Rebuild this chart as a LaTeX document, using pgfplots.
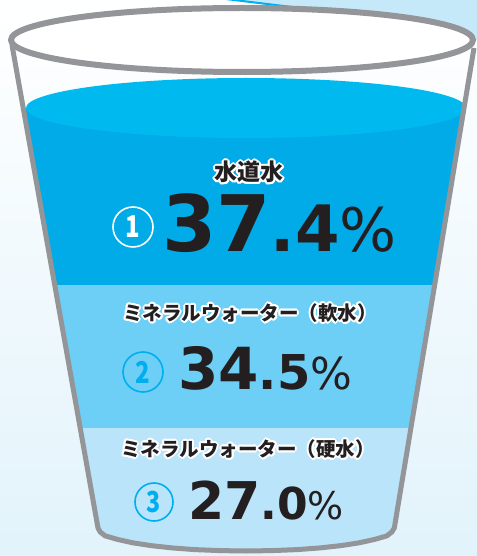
\documentclass[border=0pt]{standalone}
\usepackage{pgfplots}
\pgfplotsset{compat=1.18}
\usepackage{pgfplotstable}
\usepackage{fontspec}
\setmainfont{Liberation Sans}
\newfontfamily\jp{Noto Sans CJK JP}
\newfontfamily\djv{DejaVu Sans}
\definecolor{gl}{HTML}{939598}
\definecolor{w1}{HTML}{00ABE8}
\definecolor{w1t}{HTML}{00BAEF}
\definecolor{w2}{HTML}{6DCFF6}
\definecolor{w3}{HTML}{BAE4F9}
\definecolor{cy}{HTML}{00AEEF}
\definecolor{bgb}{HTML}{E2F3FB}
\definecolor{ink}{HTML}{231F20}
\definecolor{lb}{HTML}{C6E9F9}

% layer outlines in picture units (share: 37.4, 34.5, 27.0)
\pgfplotstableread{
x y
23.2 108
464 108
434.7 285
54.7 285
}\layerone
\pgfplotstableread{
x y
54.7 285
434.7 285
410.9 428
80.2 428
}\layertwo
\pgfplotstableread{
x y
80.2 428
410.9 428
394.3 528
391.8 532
386.8 535.9
374.2 539.5
359.2 542.8
341.1 545.6
320 547.9
297.4 549.6
271.7 550.6
246 551
220.3 550.6
194.6 549.6
172 547.9
150.9 545.6
132.8 542.8
117.8 539.5
105.2 535.9
100.2 532
98 528
}\layerthree
\pgfplotstableread{
x y
12 45
98 528
100.2 532
105.2 535.9
117.8 539.5
132.8 542.8
150.9 545.6
172 547.9
194.6 549.6
220.3 550.6
246 551
271.7 550.6
297.4 549.6
320 547.9
341.1 545.6
359.2 542.8
374.2 539.5
386.8 535.9
391.8 532
394.3 528
474 48
}\glass

\newcommand\halo[3]{%
  \foreach \a in {0,22.5,...,337.5}{\node[text=white, font=#2, inner sep=0] at ([shift={(\a:1.8bp)}]#1) {#3};}
  \node[text=ink, font=#2, inner sep=0] at (#1) {#3};}

\begin{document}
\begin{tikzpicture}
\begin{axis}[x=1bp, y=1bp, xmin=0, xmax=477, ymin=0, ymax=556, y dir=reverse, hide axis, clip=true]
\addplot[draw=none, top color=white, middle color=bgb!30!white, bottom color=bgb] coordinates {(0,0)(477,0)(477,556)(0,556)} -- cycle;
\addplot[draw=none, fill=lb] coordinates {(228,0)(300,9)(360,12)(420,19)(460,28)(477,40)(477,0)} -- cycle;
\addplot[cy, line width=2bp] coordinates {(226,-1)(300,8)};
\addplot[draw=none, fill=w1] table {\layerone} -- cycle;
\addplot[draw=none, fill=w2] table {\layertwo} -- cycle;
\addplot[draw=none, fill=w3] table {\layerthree} -- cycle;
\fill[w1t] (axis cs:246,108) ellipse [x radius=220, y radius=30];
\addplot[gl, line width=5bp, line join=round] table {\glass};
\draw[gl, line width=6bp, fill=white] (axis cs:242,40) ellipse [x radius=231, y radius=32];
\coordinate (SW) at (axis cs:0,556);
\coordinate (NE) at (axis cs:477,0);
\coordinate (L1) at (axis cs:249,172);
\coordinate (L2) at (axis cs:250,313);
\coordinate (L3) at (axis cs:248,449);
\coordinate (N1) at (axis cs:162,252);
\coordinate (N2) at (axis cs:178,390);
\coordinate (N3) at (axis cs:188,520);
\coordinate (C1) at (axis cs:133,227);
\coordinate (C2) at (axis cs:143,372);
\coordinate (C3) at (axis cs:154,502);
\end{axis}
\halo{L1}{\jp\bfseries\fontsize{23bp}{25bp}\selectfont}{水道水}
\halo{L2}{\jp\bfseries\fontsize{19.5bp}{22bp}\selectfont}{ミネラルウォーター（軟水）}
\halo{L3}{\jp\bfseries\fontsize{19.5bp}{22bp}\selectfont}{ミネラルウォーター（硬水）}
\node[anchor=base west, inner sep=0, text=ink] at (N1) {{\djv\bfseries\fontsize{78bp}{80bp}\selectfont 37}{\djv\bfseries\fontsize{64bp}{66bp}\selectfont .4}{\djv\fontsize{60bp}{62bp}\selectfont\%}};
\node[anchor=base west, inner sep=0, text=ink] at (N2) {{\djv\bfseries\fontsize{58bp}{60bp}\selectfont 34}{\djv\bfseries\fontsize{48bp}{50bp}\selectfont .5}{\djv\fontsize{44bp}{46bp}\selectfont\%}};
\node[anchor=base west, inner sep=0, text=ink] at (N3) {{\djv\bfseries\fontsize{52bp}{54bp}\selectfont 27}{\djv\bfseries\fontsize{44bp}{46bp}\selectfont .0}{\djv\fontsize{38bp}{40bp}\selectfont\%}};
\draw[white, line width=1.6bp] (C1) circle[radius=20bp];
\node[text=white, inner sep=0, font=\jp\bfseries\fontsize{30bp}{32bp}\selectfont] at (C1) {\scalebox{0.8}[1]{1}};
\draw[cy, line width=1.6bp] (C2) circle[radius=20bp];
\node[text=cy, inner sep=0, font=\jp\bfseries\fontsize{30bp}{32bp}\selectfont] at (C2) {\scalebox{0.8}[1]{2}};
\draw[cy, line width=1.6bp] (C3) circle[radius=19bp];
\node[text=cy, inner sep=0, font=\jp\bfseries\fontsize{29bp}{31bp}\selectfont] at (C3) {\scalebox{0.8}[1]{3}};
\pgfresetboundingbox
\path (SW) rectangle (NE);
\end{tikzpicture}
\end{document}
